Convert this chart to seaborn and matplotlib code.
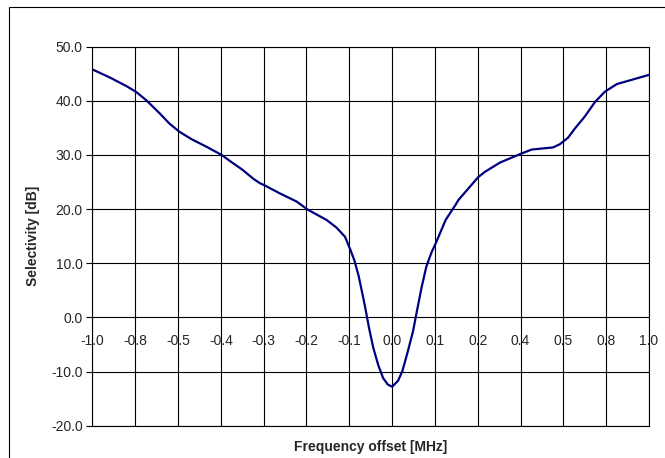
import numpy as np
import pandas as pd
import seaborn as sns
import matplotlib.pyplot as plt
from matplotlib.patches import Rectangle

# category labels on the x axis (Excel category axis, uneven values)
tick_labels = ['-1.0', '-0.8', '-0.5', '-0.4', '-0.3', '-0.2', '-0.1',
               '0.0', '0.1', '0.2', '0.4', '0.5', '0.8', '1.0']

# curve position along the category axis and selectivity in dB
pos = [0.00, 0.41, 0.80, 1.03, 1.26, 1.57, 1.80, 2.03, 2.32, 2.67, 3.02, 3.21,
       3.50, 3.76, 3.91, 4.02, 4.38, 4.77, 5.03, 5.47, 5.70, 5.90, 6.02, 6.12,
       6.22, 6.30, 6.37, 6.46, 6.56, 6.68, 6.79, 6.90, 7.00, 7.14, 7.24, 7.37,
       7.49, 7.58, 7.69, 7.80, 7.92, 8.02, 8.25, 8.49, 8.55, 9.01, 9.17, 9.52,
       10.03, 10.26, 10.76, 10.92, 11.11, 11.27, 11.50, 11.74, 11.97, 12.25,
       12.56, 13.00]
sel = [45.8, 44.3, 42.7, 41.6, 40.1, 37.7, 35.8, 34.3, 32.9, 31.5, 30.0, 28.9,
       27.3, 25.6, 24.8, 24.4, 22.9, 21.4, 19.9, 18.0, 16.6, 14.9, 12.6, 10.5,
       7.6, 4.6, 1.9, -1.9, -5.6, -8.9, -11.2, -12.4, -12.8, -11.7, -9.9, -6.2,
       -2.5, 1.2, 5.6, 9.4, 12.0, 13.7, 18.0, 20.9, 21.7, 25.9, 26.9, 28.6,
       30.3, 31.0, 31.4, 32.0, 33.2, 34.9, 37.1, 39.8, 41.7, 43.1,
       43.8, 44.8]

df = pd.DataFrame({'pos': pos, 'sel': sel})

sns.set_style('white')
plt.rcParams['font.family'] = ['Liberation Sans', 'DejaVu Sans']

fig = plt.figure(figsize=(6.65, 4.58), dpi=100)
ax = fig.add_axes([92.4 / 665, 1 - 425.7 / 458, (649 - 92.4) / 665, (425.7 - 46.7) / 458])

sns.lineplot(data=df, x='pos', y='sel', ax=ax, color='#000080', linewidth=1.6,
             estimator=None, sort=False)

ax.set_xlim(0, len(tick_labels) - 1)
ax.set_ylim(-20, 50)
ax.set_yticks(np.arange(-20, 51, 10))
ax.set_yticklabels([f'{v:.1f}' for v in np.arange(-20, 51, 10)], fontsize=10)
ax.set_xticks(range(len(tick_labels)))
ax.tick_params(axis='x', length=0, labelbottom=False)
ax.tick_params(axis='y', length=4, width=0.8, color='black', pad=3, direction='out', left=True)
ax.grid(True, color='black', linewidth=0.8)
for s in ax.spines.values():
    s.set_color('black')
    s.set_linewidth(0.8)

# category labels sit on the zero line
sec = ax.secondary_xaxis(20 / 70)
sec.set_xticks(range(len(tick_labels)))
sec.set_xticklabels(tick_labels, fontsize=10)
sec.tick_params(length=0, pad=12)
sec.spines['bottom'].set_visible(False)

ax.set_xlabel('')
ax.set_ylabel('Selectivity [dB]', fontsize=10, fontweight='bold', labelpad=8)
fig.text(370.7 / 665, 1 - 446.7 / 458, 'Frequency offset [MHz]', fontsize=10,
         fontweight='bold', ha='center', va='center')

# outer chart border
fig.patches.append(Rectangle((9 / 665, -0.1), 1.2, 1.1 - 7 / 458,
                             transform=fig.transFigure, fill=False,
                             edgecolor='black', linewidth=0.8))

fig.savefig('out.png', dpi=100)
